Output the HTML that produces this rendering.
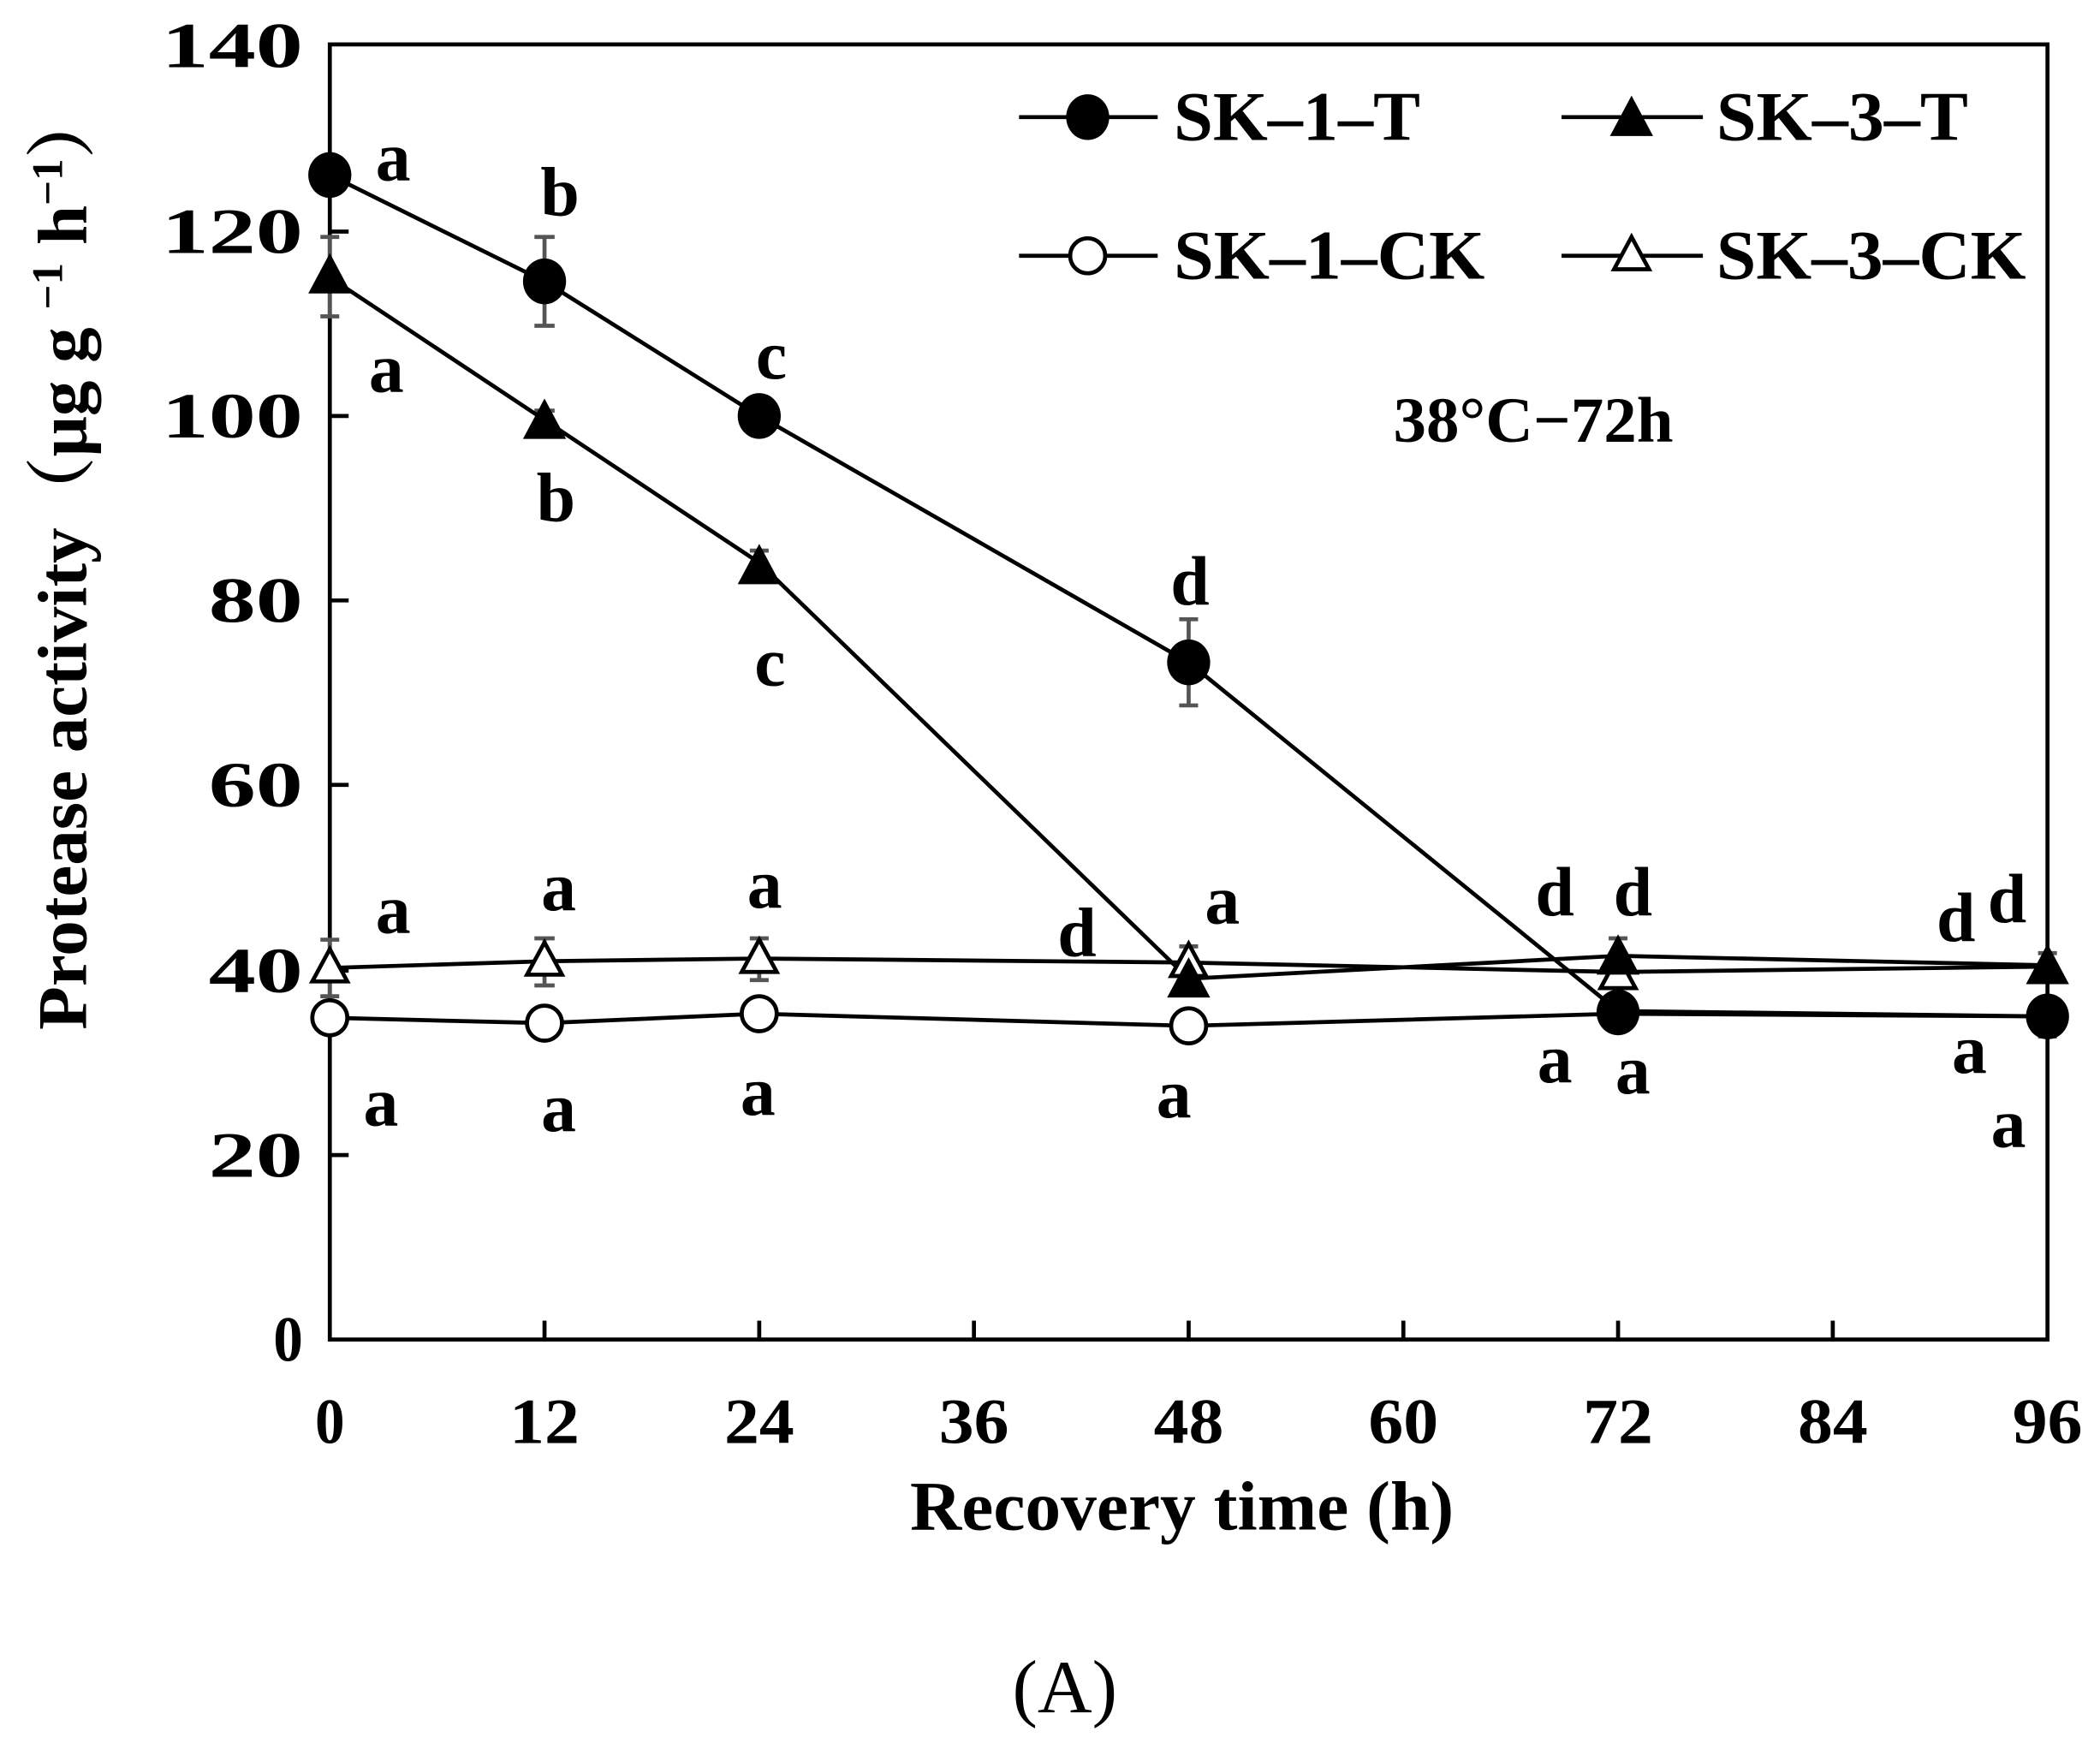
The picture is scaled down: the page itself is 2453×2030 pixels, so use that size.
<!DOCTYPE html>
<html><head><meta charset="utf-8"><style>
html,body{margin:0;padding:0;background:#fff;}
svg{display:block;}
text{font-family:"Liberation Serif","Noto Serif CJK SC",serif;font-weight:bold;fill:#000;}
</style></head><body>
<svg width="2453" height="2030" viewBox="0 0 1560 1291" xmlns="http://www.w3.org/2000/svg">
<g stroke="#000" stroke-width="3" fill="none">
<rect x="245" y="33" width="1276" height="962"/>
<line x1="245" y1="858" x2="259" y2="858"/>
<line x1="245" y1="721" x2="259" y2="721"/>
<line x1="245" y1="583" x2="259" y2="583"/>
<line x1="245" y1="446" x2="259" y2="446"/>
<line x1="245" y1="309" x2="259" y2="309"/>
<line x1="245" y1="172" x2="259" y2="172"/>
<line x1="404.5" y1="995" x2="404.5" y2="981"/>
<line x1="564" y1="995" x2="564" y2="981"/>
<line x1="723.5" y1="995" x2="723.5" y2="981"/>
<line x1="883" y1="995" x2="883" y2="981"/>
<line x1="1042.5" y1="995" x2="1042.5" y2="981"/>
<line x1="1202" y1="995" x2="1202" y2="981"/>
<line x1="1361.5" y1="995" x2="1361.5" y2="981"/>
</g>
<g font-size="48" text-anchor="end">
<text x="225" y="1011" textLength="22" lengthAdjust="spacingAndGlyphs">0</text>
<text x="225" y="874" textLength="70" lengthAdjust="spacingAndGlyphs">20</text>
<text x="225" y="737" textLength="70" lengthAdjust="spacingAndGlyphs">40</text>
<text x="225" y="599" textLength="70" lengthAdjust="spacingAndGlyphs">60</text>
<text x="225" y="462" textLength="70" lengthAdjust="spacingAndGlyphs">80</text>
<text x="225" y="325" textLength="105" lengthAdjust="spacingAndGlyphs">100</text>
<text x="225" y="188" textLength="105" lengthAdjust="spacingAndGlyphs">120</text>
<text x="225" y="50" textLength="105" lengthAdjust="spacingAndGlyphs">140</text>
</g>
<g font-size="48" text-anchor="middle">
<text x="245" y="1072" textLength="22" lengthAdjust="spacingAndGlyphs">0</text>
<text x="404.5" y="1072" textLength="52" lengthAdjust="spacingAndGlyphs">12</text>
<text x="564" y="1072" textLength="52" lengthAdjust="spacingAndGlyphs">24</text>
<text x="723.5" y="1072" textLength="52" lengthAdjust="spacingAndGlyphs">36</text>
<text x="883" y="1072" textLength="52" lengthAdjust="spacingAndGlyphs">48</text>
<text x="1042.5" y="1072" textLength="52" lengthAdjust="spacingAndGlyphs">60</text>
<text x="1202" y="1072" textLength="52" lengthAdjust="spacingAndGlyphs">72</text>
<text x="1361.5" y="1072" textLength="52" lengthAdjust="spacingAndGlyphs">84</text>
<text x="1521" y="1072" textLength="52" lengthAdjust="spacingAndGlyphs">96</text>
</g>
<text x="676" y="1136" font-size="52" textLength="404" lengthAdjust="spacingAndGlyphs">Recovery time (h)</text>
<text x="752" y="1272" font-size="56" style="font-weight:normal" textLength="78" lengthAdjust="spacingAndGlyphs">(A)</text>
<text transform="translate(64,765) rotate(-90)" x="0" y="0" font-size="52" textLength="700" lengthAdjust="spacingAndGlyphs">Protease activity（μg g <tspan font-size="32" dy="-18">−1</tspan><tspan dy="18"> h</tspan><tspan font-size="32" dy="-18">−1</tspan><tspan dy="18">）</tspan></text>
<text x="1035" y="328" font-size="48" textLength="208" lengthAdjust="spacingAndGlyphs">38°C−72h</text>

<g stroke="#555" stroke-width="3" fill="none">
<path d="M245 120V140M238 120H252M238 140H252"/>
<path d="M404.5 176V242M397 176H412M397 242H412"/>
<path d="M564 298V319M557 298H571M557 319H571"/>
<path d="M883 460V524M876 460H890M876 524H890"/>
<path d="M245 176V235M238 176H252M238 235H252"/>
<path d="M404.5 305V319M397 305H412"/>
<path d="M564 409V428M557 409H571"/>
<path d="M245 698V740M238 698H252M238 740H252"/>
<path d="M404.5 697V732M397 697H412M397 732H412"/>
<path d="M564 697V728M557 697H571M557 728H571"/>
<path d="M883 703V728M876 703H890"/>
<path d="M1202 697V724M1195 697H1209"/>
<path d="M1521 708V730M1514 708H1528"/>
<path d="M1202 742V764M1195 742H1209M1195 764H1209"/>
<path d="M1521 741V770M1514 741H1528M1514 770H1528"/>
<path d="M404.5 752V768M397 768H412"/>
<path d="M883 754V770M876 770H890"/>
</g>
<g stroke="#000" stroke-width="3" fill="none" stroke-linejoin="round">
<polyline points="245,130 404.5,209 564,309 883,492 1202,751 1521,755"/>
<polyline points="245,206 404.5,312 564,418 883,727 1202,710 1521,717"/>
<polyline points="245,756 404.5,760 564,753 883,762 1202,753 1521,755"/>
<polyline points="245,719 404.5,714 564,712 883,715 1202,722 1521,718"/>
</g>
<g fill="#fff" stroke="#000" stroke-width="3">
<polygon points="245,705 232,729 258,729"/>
<polygon points="404.5,700 391.5,724 417.5,724"/>
<polygon points="564,698 551,722 577,722"/>
<polygon points="883,701 870,725 896,725"/>
<polygon points="1202,710 1189,734 1215,734"/>
<ellipse cx="245" cy="756" rx="13" ry="13"/>
<ellipse cx="404.5" cy="760" rx="13" ry="13"/>
<ellipse cx="564" cy="753" rx="13" ry="13"/>
<ellipse cx="883" cy="762" rx="13" ry="13"/>
</g>
<g fill="#000">
<ellipse cx="245" cy="130" rx="16" ry="17"/>
<ellipse cx="404.5" cy="209" rx="16" ry="17"/>
<ellipse cx="564" cy="309" rx="16" ry="17"/>
<ellipse cx="883" cy="492" rx="16" ry="17"/>
<ellipse cx="1202" cy="752" rx="16" ry="17"/>
<ellipse cx="1521" cy="755" rx="16" ry="17"/>
<polygon points="245,188 229,218 261,218"/>
<polygon points="404.5,296 388.5,326 420.5,326"/>
<polygon points="564,404 548,434 580,434"/>
<polygon points="883,711 867,741 899,741"/>
<polygon points="1202,694 1186,724 1218,724"/>
<polygon points="1521,701 1505,731 1537,731"/>
</g>
<g stroke="#000" stroke-width="3">
<line x1="757" y1="87" x2="860" y2="87"/>
<line x1="1160" y1="87" x2="1265" y2="87"/>
<line x1="757" y1="190" x2="860" y2="190"/>
<line x1="1160" y1="190" x2="1265" y2="190"/>
</g>
<ellipse cx="808" cy="87" rx="16" ry="17" fill="#000"/>
<polygon points="1212,71 1196,101 1228,101" fill="#000"/>
<ellipse cx="808" cy="190" rx="13" ry="13" fill="#fff" stroke="#000" stroke-width="3"/>
<polygon points="1212,176 1199,200 1225,200" fill="#fff" stroke="#000" stroke-width="3"/>
<g font-size="52">
<text x="872" y="104" textLength="183" lengthAdjust="spacingAndGlyphs">SK–1–T</text>
<text x="1275" y="104" textLength="187" lengthAdjust="spacingAndGlyphs">SK–3–T</text>
<text x="872" y="207" textLength="231" lengthAdjust="spacingAndGlyphs">SK–1–CK</text>
<text x="1275" y="207" textLength="230" lengthAdjust="spacingAndGlyphs">SK–3–CK</text>
</g>
<g font-size="52" text-anchor="middle">
<text x="292" y="134">a</text>
<text x="416" y="160">b</text>
<text x="573" y="281">c</text>
<text x="884" y="449">d</text>
<text x="287" y="291">a</text>
<text x="413" y="387">b</text>
<text x="572" y="509">c</text>
<text x="292" y="693">a</text>
<text x="415" y="676">a</text>
<text x="568" y="674">a</text>
<text x="800" y="710">d</text>
<text x="908" y="686">a</text>
<text x="1155" y="680">d</text>
<text x="1213" y="680">d</text>
<text x="1453" y="699">d</text>
<text x="1491" y="685">d</text>
<text x="283" y="836">a</text>
<text x="415" y="840">a</text>
<text x="563" y="828">a</text>
<text x="872" y="830">a</text>
<text x="1155" y="804">a</text>
<text x="1213" y="812">a</text>
<text x="1463" y="797">a</text>
<text x="1492" y="852">a</text>
</g>
</svg>
</body></html>
